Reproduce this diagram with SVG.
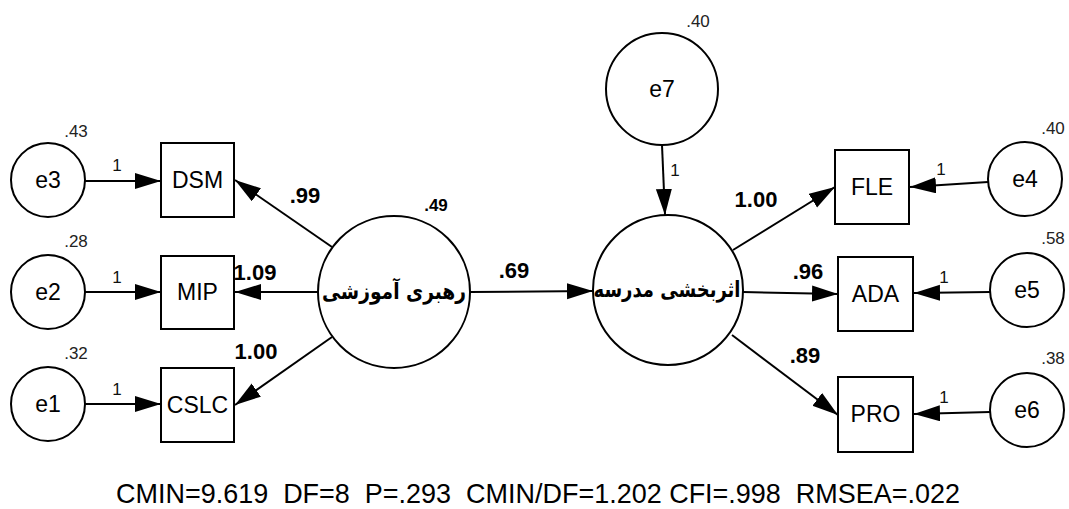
<svg xmlns="http://www.w3.org/2000/svg" width="1069" height="509" viewBox="0 0 1069 509">
<style>
.shape{fill:#fff;stroke:#000;stroke-width:2}
.edge{stroke:#000;stroke-width:2;fill:none;marker-end:url(#arr)}
.nt{font-family:"Liberation Sans",Arial,sans-serif;font-size:23px;fill:#000;text-anchor:middle}
.fa{font-family:"DejaVu Sans",sans-serif;font-size:22px;font-weight:bold;fill:#000;text-anchor:middle}
.w{font-family:"Liberation Sans",Arial,sans-serif;font-size:22px;font-weight:bold;fill:#000;text-anchor:middle}
.s{font-family:"Liberation Sans",Arial,sans-serif;font-size:17px;fill:#222;text-anchor:middle}
.one{font-family:"Liberation Sans",Arial,sans-serif;font-size:17px;fill:#111;text-anchor:middle}
.fit{font-family:"Liberation Sans",Arial,sans-serif;font-size:28px;fill:#000}
</style>
<defs>
<marker id="arr" markerUnits="userSpaceOnUse" markerWidth="27" markerHeight="18" refX="26" refY="8" orient="auto">
<path d="M0,0 L26,8 L0,16 z" fill="#000"/>
</marker>
</defs>
<rect width="1069" height="509" fill="#fff"/>
<g id="connectors">
<line class="edge" x1="85" y1="181" x2="161" y2="181"/>
<line class="edge" x1="85" y1="292" x2="161" y2="292"/>
<line class="edge" x1="85" y1="404" x2="161" y2="404"/>
<line class="edge" x1="332" y1="247" x2="235" y2="180"/>
<line class="edge" x1="318" y1="292" x2="235" y2="292"/>
<line class="edge" x1="332" y1="337" x2="235" y2="405"/>
<line class="edge" x1="470" y1="292" x2="593" y2="291"/>
<line class="edge" x1="662" y1="145" x2="665" y2="215"/>
<line class="edge" x1="733" y1="250" x2="835" y2="187"/>
<line class="edge" x1="743" y1="292" x2="838" y2="294"/>
<line class="edge" x1="732" y1="335" x2="838" y2="415"/>
<line class="edge" x1="988" y1="182" x2="910" y2="187"/>
<line class="edge" x1="990" y1="292" x2="914" y2="293"/>
<line class="edge" x1="990" y1="412" x2="914" y2="414"/>
<text class="one" x="117" y="171">1</text>
<text class="one" x="117" y="283">1</text>
<text class="one" x="117" y="395">1</text>
<text class="one" x="675" y="176">1</text>
<text class="one" x="941" y="175">1</text>
<text class="one" x="944" y="283">1</text>
<text class="one" x="944" y="403">1</text>
<text class="w" x="305" y="203">.99</text>
<text class="w" x="255" y="280">1.09</text>
<text class="w" x="256" y="359">1.00</text>
<text class="w" x="514" y="278">.69</text>
<text class="w" x="756" y="207">1.00</text>
<text class="w" x="808" y="279">.96</text>
<text class="w" x="805" y="363">.89</text>
</g>
<g id="e3"><circle class="shape" cx="48" cy="180" r="37"/><text class="nt" x="48" y="188">e3</text><text class="s" x="76" y="137">.43</text></g>
<g id="e2"><circle class="shape" cx="48" cy="292" r="37"/><text class="nt" x="48" y="300">e2</text><text class="s" x="76" y="247">.28</text></g>
<g id="e1"><circle class="shape" cx="48" cy="404" r="37"/><text class="nt" x="48" y="412">e1</text><text class="s" x="76" y="359">.32</text></g>
<g id="DSM"><rect class="shape" x="161" y="143" width="73" height="74"/><text class="nt" x="197.5" y="188">DSM</text></g>
<g id="MIP"><rect class="shape" x="161" y="256" width="73" height="73"/><text class="nt" x="197.5" y="300">MIP</text></g>
<g id="CSLC"><rect class="shape" x="161" y="368" width="73" height="74"/><text class="nt" x="197.5" y="413">CSLC</text></g>
<g id="leadership"><circle class="shape" cx="394" cy="292" r="76"/><text class="fa" x="394" y="299" textLength="144" lengthAdjust="spacingAndGlyphs">رهبری آموزشی</text><text class="s" x="436" y="211" style="font-weight:bold;font-size:17px;fill:#000">.49</text></g>
<g id="effectiveness"><circle class="shape" cx="668" cy="290" r="75"/><text class="fa" x="667" y="297" textLength="147" lengthAdjust="spacingAndGlyphs">اثربخشی مدرسه</text></g>
<g id="e7"><circle class="shape" cx="662" cy="89" r="56"/><text class="nt" x="662" y="97">e7</text><text class="s" x="698" y="27">.40</text></g>
<g id="FLE"><rect class="shape" x="835" y="150" width="74" height="74"/><text class="nt" x="872" y="195">FLE</text></g>
<g id="ADA"><rect class="shape" x="838" y="257" width="75" height="74"/><text class="nt" x="875.5" y="302">ADA</text></g>
<g id="PRO"><rect class="shape" x="838" y="377" width="75" height="75"/><text class="nt" x="875.5" y="422">PRO</text></g>
<g id="e4"><circle class="shape" cx="1025" cy="179" r="37"/><text class="nt" x="1025" y="187">e4</text><text class="s" x="1053" y="134">.40</text></g>
<g id="e5"><circle class="shape" cx="1027" cy="290" r="37"/><text class="nt" x="1027" y="298">e5</text><text class="s" x="1053" y="244">.58</text></g>
<g id="e6"><circle class="shape" cx="1027" cy="410" r="37"/><text class="nt" x="1027" y="418">e6</text><text class="s" x="1053" y="364">.38</text></g>
<text class="fit" x="116" y="503" textLength="844" lengthAdjust="spacingAndGlyphs" xml:space="preserve">CMIN=9.619  DF=8  P=.293  CMIN/DF=1.202 CFI=.998  RMSEA=.022</text>
</svg>
